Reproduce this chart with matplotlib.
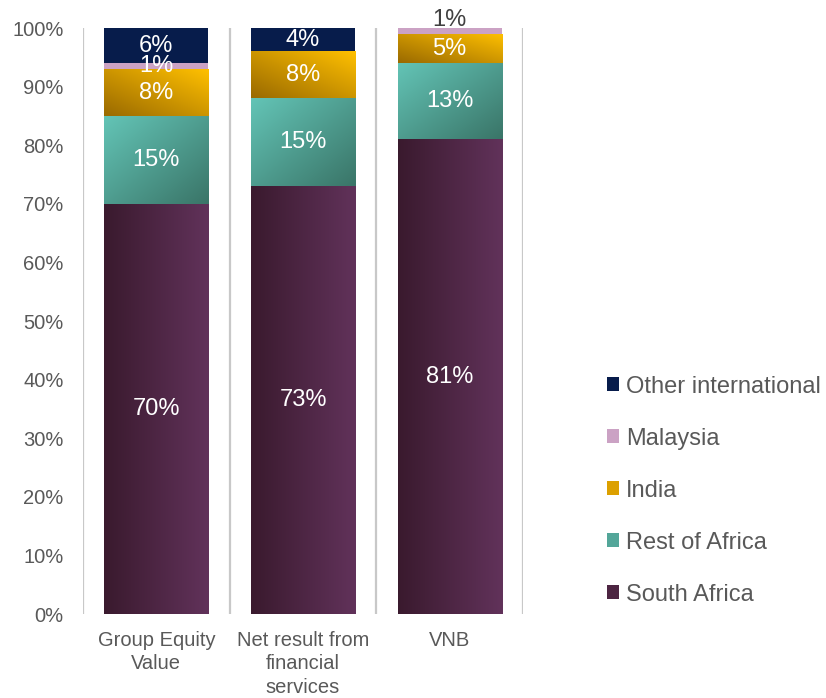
import numpy as np
import matplotlib.pyplot as plt
from matplotlib.colors import LinearSegmentedColormap
from matplotlib.patches import Patch

plt.rcParams['font.family'] = ['Liberation Sans', 'DejaVu Sans']

# Share of value by region (%)
categories = ['Group Equity\nValue', 'Net result from\nfinancial\nservices', 'VNB']
regions = ['South Africa', 'Rest of Africa', 'India', 'Malaysia', 'Other international']
south_africa = [70, 73, 81]
rest_of_africa = [15, 15, 13]
india = [8, 8, 5]
malaysia = [1, 0, 1]
other_intl = [6, 4, 0]
series = [south_africa, rest_of_africa, india, malaysia, other_intl]

# (dark, light, direction) for gradient fills, or a flat colour
fills = [
    ('#3a1a2e', '#61325a', 'h'),
    ('#3a7568', '#63c4b6', 'd1'),
    ('#9a6a00', '#ffc000', 'd2'),
    '#cba2c4',
    '#071c4b',
]
legend_cols = ['#4d2542', '#53a699', '#dca000', '#cba2c4', '#071c4b']

fig = plt.figure(figsize=(8.26, 6.98), dpi=100)
ax = fig.add_axes([0.1005, 0.1203, 0.5327, 0.8395])

x = np.arange(len(categories))
width = 0.71
bottom = np.zeros(len(categories))


def gradient(dark, light, kind, n=64):
    u = np.linspace(0, 1, n)
    X, Y = np.meshgrid(u, u)  # Y=0 at top row in image order
    if kind == 'h':
        t = X
    elif kind == 'd1':  # light at top-left, dark bottom-right
        t = 1 - (X + Y) / 2
    else:  # light at top-right, dark bottom-left
        t = (X + (1 - Y)) / 2
    cmap = LinearSegmentedColormap.from_list('g', [dark, light])
    return t, cmap


for vals, fill in zip(series, fills):
    vals = np.array(vals, dtype=float)
    if isinstance(fill, tuple):
        bars = ax.bar(x, vals, width, bottom=bottom, color=fill[1], linewidth=0)
        for b in bars:
            if b.get_height() <= 0:
                continue
            x0, y0 = b.get_x(), b.get_y()
            t, cmap = gradient(*fill)
            im = ax.imshow(t, cmap=cmap, vmin=0, vmax=1, aspect='auto',
                           extent=(x0, x0 + b.get_width(), y0, y0 + b.get_height()),
                           interpolation='bilinear', zorder=2)
            im.set_clip_path(b)
    else:
        bars = ax.bar(x, vals, width, bottom=bottom, color=fill, linewidth=0, zorder=2)
    for xi, v, b0 in zip(x, vals, bottom):
        if v <= 0:
            continue
        if b0 + v >= 100 and v < 2 and b0 >= 98:
            # thin top slice: label sits just above the bar
            ax.text(xi, 100.4, f'{v:.0f}%', ha='center', va='baseline',
                    fontsize=17, color='#404040', clip_on=False, zorder=4)
        else:
            ax.text(xi, b0 + v / 2, f'{v:.0f}%', ha='center', va='center',
                    fontsize=17, color='white', zorder=4)
    bottom += vals

# category separators
ax.vlines([-0.5, 0.5, 1.5, 2.5], 0, 100, colors='#c8c8c8', linewidth=1.6, zorder=1)

ax.set_xlim(-0.5, 2.5)
ax.set_ylim(0, 100)
ax.set_xticks(x)
ax.set_xticklabels(categories, fontsize=14.5, color='#595959', linespacing=1.3)
ax.set_yticks(np.arange(0, 101, 10))
ax.set_yticklabels([f'{v}%' for v in range(0, 101, 10)], fontsize=14.5, color='#595959')
ax.tick_params(axis='both', length=0)
ax.tick_params(axis='y', pad=14)
ax.tick_params(axis='x', pad=12)
for s in ax.spines.values():
    s.set_visible(False)

handles = [Patch(facecolor=c, label=r) for c, r in zip(legend_cols, regions)]
fig.legend(handles[::-1], regions[::-1], loc='center left', bbox_to_anchor=(0.709, 0.297),
           frameon=False, fontsize=17, labelcolor='#595959',
           handlelength=0.52, handleheight=0.52, handletextpad=0.3, labelspacing=1.27)

fig.savefig('out.png', dpi=100)
